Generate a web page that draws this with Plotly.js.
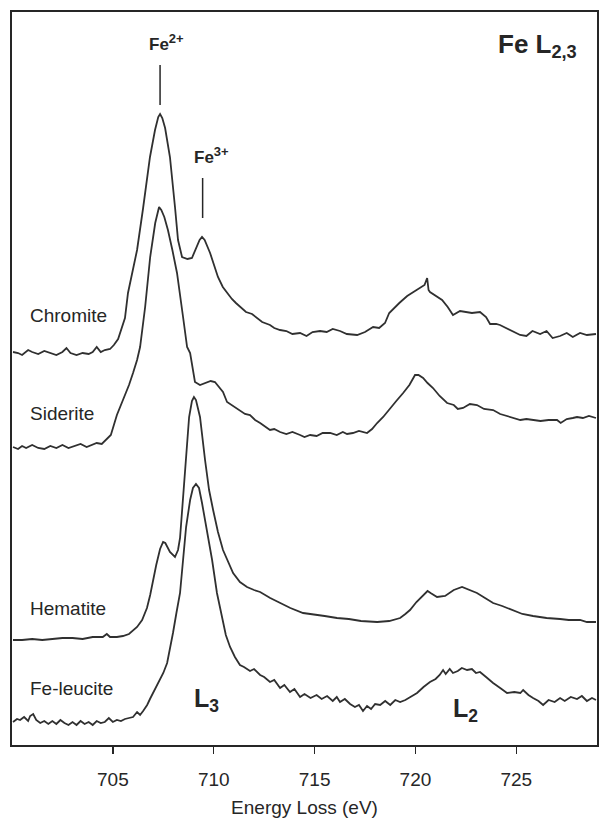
<!DOCTYPE html>
<html>
<head>
<meta charset="utf-8">
<script src="https://cdn.plot.ly/plotly-3.0.1.min.js"></script>
<style>
  html, body { margin: 0; padding: 0; background: #ffffff; }
  #chart { width: 599px; height: 821px; }
</style>
</head>
<body>
<div id="chart"></div>
<script>
// Fe L2,3 edge EELS spectra, stacked with vertical offsets (arbitrary intensity units)

const chromiteEnergy = [
  700.05,700.3,700.5,700.8,701.0,701.3,701.6,701.9,702.2,702.5,
  702.7,702.9,703.2,703.5,703.8,704.0,704.2,704.4,704.6,704.86,
  705.05,705.26,705.45,705.6,705.75,706.0,706.2,706.5,706.84,707.09,
  707.25,707.34,707.45,707.59,707.83,708.08,708.23,708.43,708.7,708.92,
  709.12,709.3,709.42,709.55,709.82,710.0,710.21,710.45,710.66,710.9,
  711.1,711.3,711.6,711.9,712.15,712.4,712.79,713.0,713.29,713.6,
  713.9,714.28,714.6,714.9,715.27,715.6,715.9,716.26,716.6,716.9,
  717.11,717.5,717.9,718.2,718.49,718.7,718.89,719.2,719.59,719.9,
  720.23,720.45,720.58,720.65,720.72,721.0,721.32,721.6,721.86,722.21,
  722.5,722.8,723.2,723.5,723.7,724.0,724.19,724.5,724.8,725.19,
  725.5,725.8,726.18,726.5,726.8,727.17,727.5,727.8,728.16,728.5,
  728.95
];
const chromiteIntensity = [
  393,392,390,395,393,391,394,392,390,393,
  397,392,390,392,391,393,398,393,395,396,
  400,406,418,427,452,475,495,537,588,615,
  628,631,627,617,588,538,505,488,486,487,
  497,505,508,505,492,480,468,458,452,446,
  442,438,433,431,427,423,420,417,415,414,
  411,412,409,413,414,413,416,414,411,410,
  410,413,418,417,422,432,436,442,449,453,
  458,460,467,455,453,449,445,438,430,434,
  433,432,433,428,421,421,420,417,414,410,
  409,414,411,414,407,409,412,408,412,410,
  411
];

const sideriteEnergy = [
  700.05,700.3,700.5,700.7,701.0,701.3,701.6,701.9,702.2,702.5,
  702.8,703.1,703.4,703.7,704.0,704.2,704.45,704.7,704.9,705.05,
  705.2,705.5,705.8,706.0,706.2,706.35,706.6,706.85,707.1,707.29,
  707.4,707.55,707.73,707.95,708.18,708.48,708.68,708.83,709.07,709.32,
  709.6,709.85,710.06,710.3,710.46,710.66,710.95,711.3,711.55,711.8,
  712.05,712.3,712.55,712.79,713.0,713.29,713.6,713.9,714.28,714.5,
  714.78,715.1,715.4,715.77,716.1,716.4,716.61,716.9,717.2,717.6,
  717.85,718.1,718.4,718.74,719.05,719.39,719.7,719.98,720.15,720.38,
  720.6,720.87,721.2,721.57,721.9,722.1,722.36,722.7,723.05,723.4,
  723.85,724.2,724.5,724.84,725.2,725.5,725.83,726.2,726.6,727.02,
  727.2,727.5,727.8,728.01,728.3,728.6,728.95
];
const sideriteIntensity = [
  298,296,299,297,300,297,296,299,297,300,
  297,299,301,298,300,302,301,306,310,320,
  330,345,360,372,385,398,438,488,522,538,
  535,528,515,495,472,428,398,392,363,360,
  362,364,363,357,353,343,339,335,331,330,
  325,322,318,315,316,313,311,313,310,308,
  310,309,312,312,310,313,311,312,314,312,
  316,322,328,337,344,352,360,370,370,367,
  362,357,349,342,340,336,337,341,340,336,
  335,331,329,327,325,326,325,324,325,325,
  322,326,327,328,327,329,327
];

const hematiteEnergy = [
  700.05,700.5,701.0,701.5,702.0,702.5,703.0,703.5,704.0,704.5,
  704.7,704.86,705.2,705.5,705.8,706.0,706.2,706.45,706.69,706.85,
  706.99,707.15,707.34,707.49,707.6,707.83,708.08,708.23,708.33,708.48,
  708.63,708.78,708.92,709.02,709.12,709.32,709.57,709.77,709.97,710.21,
  710.46,710.71,710.96,711.3,711.65,712.0,712.3,712.8,713.29,713.8,
  714.43,715.0,715.5,716.11,716.7,717.3,718.1,718.7,719.24,719.5,
  719.73,720.05,720.38,720.6,720.75,721.07,721.47,721.9,722.31,722.7,
  723.05,723.45,723.85,724.3,724.84,725.3,725.83,726.5,727.17,727.6,
  728.16,728.5,728.95
];
const hematiteIntensity = [
  105,105,106,105,106,107,107,106,108,108,
  111,108,108,109,111,115,118,125,137,150,
  165,180,196,203,202,193,188,195,207,248,
  288,328,344,348,345,328,285,255,235,213,
  195,183,172,163,158,155,153,147,142,137,
  132,130,129,127,126,124,123,124,127,131,
  135,143,150,154,152,148,149,155,158,155,
  152,147,142,139,135,131,129,127,126,125,
  125,123,123
];

const feLeuciteEnergy = [
  700.05,700.25,700.4,700.6,700.8,700.9,701.05,701.2,701.4,701.6,
  701.8,702.0,702.2,702.4,702.6,702.8,703.0,703.2,703.4,703.6,
  703.8,704.0,704.2,704.4,704.6,704.8,705.0,705.2,705.4,705.6,
  705.8,706.0,706.2,706.35,706.5,706.7,706.84,707.0,707.2,707.34,
  707.5,707.69,707.85,707.98,708.15,708.33,708.48,708.63,708.83,708.97,
  709.12,709.27,709.42,709.67,709.92,710.16,710.41,710.6,710.81,711.05,
  711.3,711.5,711.8,712.0,712.3,712.5,712.79,713.0,713.29,713.5,
  713.78,714.0,714.28,714.5,714.8,715.1,715.35,715.62,715.9,716.1,
  716.26,716.5,716.76,717.0,717.2,717.4,717.6,717.8,718.0,718.25,
  718.5,718.75,719.0,719.24,719.5,719.75,720.08,720.4,720.72,721.0,
  721.2,721.37,721.5,721.7,721.86,722.1,722.3,722.56,722.8,723.0,
  723.2,723.5,723.85,724.2,724.54,724.9,725.2,725.34,725.6,725.83,
  726.1,726.33,726.6,726.9,727.17,727.4,727.7,728.01,728.25,728.5,
  728.75,728.95
];
const feLeuciteIntensity = [
  23,26,25,28,24,29,31,25,22,24,
  21,24,21,25,22,20,23,20,24,21,
  23,20,24,22,23,27,23,25,24,26,
  27,28,33,30,34,40,46,52,60,66,
  72,82,98,112,132,152,185,218,245,257,
  261,257,242,215,185,152,128,110,98,88,
  80,78,74,76,70,68,63,65,57,60,
  53,56,48,51,47,50,46,49,44,48,
  43,46,41,38,40,34,39,36,41,40,
  44,40,45,43,45,48,52,58,63,66,
  70,75,71,76,72,74,77,75,76,72,
  73,68,62,57,52,53,52,55,50,47,
  44,40,45,43,47,44,48,46,49,44,
  47,45
];

const sampleNames = ['Chromite', 'Siderite', 'Hematite', 'Fe-leucite'];
const sampleLabelLevels = [430, 332, 137, 57];
const xTickValues = [705, 710, 715, 720, 725];

const INK = '#262626';
const FONT = 'Liberation Sans, Arial, Helvetica, sans-serif';

const spectra = [
  [chromiteEnergy, chromiteIntensity],
  [sideriteEnergy, sideriteIntensity],
  [hematiteEnergy, hematiteIntensity],
  [feLeuciteEnergy, feLeuciteIntensity]
];

const traces = spectra.map((s, i) => ({
  type: 'scatter',
  mode: 'lines',
  x: s[0],
  y: s[1],
  name: sampleNames[i],
  line: { color: '#303030', width: 1.8 },
  hoverinfo: 'skip'
}));

const annotations = sampleNames.map((name, i) => ({
  x: 700.79, y: sampleLabelLevels[i], xref: 'x', yref: 'y',
  text: name, showarrow: false, xanchor: 'left', yanchor: 'middle',
  font: { family: FONT, size: 19, color: INK }
}));

// oxidation-state labels with a full-size superscript, as typeset in the figure
const ionLabel = (charge) =>
  '<b>Fe<sup><span style="font-size:13px">' + charge + '</span></sup></b>';

annotations.push(
  { x: 707.68, y: 703, xref: 'x', yref: 'y', text: ionLabel('2+'), showarrow: false,
    xanchor: 'center', yanchor: 'middle', font: { family: FONT, size: 17, color: INK } },
  { x: 709.87, y: 590, xref: 'x', yref: 'y', text: ionLabel('3+'), showarrow: false,
    xanchor: 'center', yanchor: 'middle', font: { family: FONT, size: 17, color: INK } },
  { x: 726.05, y: 700, xref: 'x', yref: 'y', text: '<b>Fe L<sub>2,3</sub></b>', showarrow: false,
    xanchor: 'center', yanchor: 'middle', font: { family: FONT, size: 26, color: INK } },
  { x: 709.62, y: 45, xref: 'x', yref: 'y', text: '<b>L<sub>3</sub></b>', showarrow: false,
    xanchor: 'center', yanchor: 'middle', font: { family: FONT, size: 25, color: INK } },
  { x: 722.5, y: 35, xref: 'x', yref: 'y', text: '<b>L<sub>2</sub></b>', showarrow: false,
    xanchor: 'center', yanchor: 'middle', font: { family: FONT, size: 25, color: INK } }
);

// short vertical markers above the Fe2+ and Fe3+ features
const shapes = [
  { type: 'line', xref: 'x', yref: 'y', x0: 707.34, x1: 707.34, y0: 640, y1: 680,
    line: { color: INK, width: 1.5 } },
  { type: 'line', xref: 'x', yref: 'y', x0: 709.45, x1: 709.45, y0: 527, y1: 567,
    line: { color: INK, width: 1.5 } }
];

const layout = {
  width: 599,
  height: 821,
  margin: { l: 12, r: 2, t: 12, b: 76 },
  paper_bgcolor: '#ffffff',
  plot_bgcolor: '#ffffff',
  showlegend: false,
  font: { family: FONT, color: INK },
  xaxis: {
    range: [700, 729],
    tickvals: xTickValues,
    ticktext: xTickValues.map(String),
    ticks: 'outside',
    ticklen: 7,
    tickwidth: 1.5,
    tickcolor: INK,
    ticklabelstandoff: 9,
    tickfont: { family: FONT, size: 19, color: INK },
    showgrid: false,
    zeroline: false,
    showline: true,
    mirror: true,
    linewidth: 2,
    linecolor: INK,
    title: { text: 'Energy Loss (eV)', font: { family: FONT, size: 19, color: INK }, standoff: 12 }
  },
  yaxis: {
    range: [0, 733],
    showticklabels: false,
    ticks: '',
    showgrid: false,
    zeroline: false,
    showline: true,
    mirror: true,
    linewidth: 2,
    linecolor: INK
  },
  annotations: annotations,
  shapes: shapes
};

Plotly.newPlot('chart', traces, layout, { staticPlot: true, displayModeBar: false });
</script>
</body>
</html>
